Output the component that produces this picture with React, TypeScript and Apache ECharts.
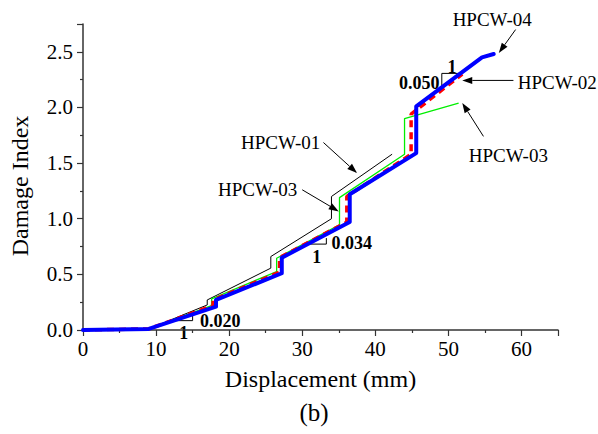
import React, { useEffect, useRef } from "react";
import * as echarts from "echarts";

// Damage index vs. displacement for the four specimens
const hpcw01: [number, number][] = [
  [0, 0], [9, 0.01], [17.0, 0.225], [17.0, 0.27], [25.7, 0.556], [25.7, 0.66],
  [34.0, 1.0], [34.0, 1.2], [42.3, 1.58],
];
const hpcw02: [number, number][] = [
  [0, 0], [9, 0.01], [17.8, 0.22], [17.8, 0.27], [26.9, 0.52], [26.9, 0.65],
  [36.1, 0.97], [36.1, 1.2], [44.9, 1.58], [44.9, 1.94], [51.9, 2.3],
];
const hpcw03: [number, number][] = [
  [0, 0], [9, 0.01], [17.6, 0.22], [17.6, 0.28], [26.5, 0.525], [26.5, 0.645],
  [35.1, 0.946], [35.1, 1.19], [44.0, 1.58], [44.0, 1.9], [51.4, 2.04],
];
const hpcw04: [number, number][] = [
  [0, 0], [9, 0.01], [18.2, 0.21], [18.2, 0.27], [27.2, 0.51], [27.2, 0.65],
  [36.5, 0.97], [36.5, 1.22], [45.6, 1.59], [45.6, 2.01], [54.6, 2.45], [56.2, 2.48],
];

const seriesNames = ["HPCW-01", "HPCW-03", "HPCW-02", "HPCW-04"];

// Callout labels: text position and arrow (from -> to), in data units
const callouts = [
  { text: "HPCW-01", at: [27.05, 1.685], from: [32.9, 1.685], to: [37.5, 1.41] },
  { text: "HPCW-03", at: [23.9, 1.26], from: [30.0, 1.26], to: [35.0, 1.066] },
  { text: "HPCW-04", at: [56.0, 2.79], from: [59.2, 2.7], to: [56.9, 2.49] },
  { text: "HPCW-02", at: [64.9, 2.225], from: [58.9, 2.243], to: [51.9, 2.243] },
  { text: "HPCW-03", at: [58.2, 1.57], from: [54.8, 1.74], to: [51.9, 2.04] },
];

// Slope markers: legs of the triangle plus the "1" run label and slope label
const slopes = [
  { value: "0.020", legs: [[12.0, 0.084], [15.0, 0.084], [15.0, 0.135]], one: [13.8, -0.027], label: [16.0, 0.08], align: "left" },
  { value: "0.034", legs: [[30.7, 0.772], [33.3, 0.772], [33.3, 0.826]], one: [32.0, 0.66], label: [34.0, 0.78], align: "left" },
  { value: "0.050", legs: [[49.1, 2.19], [49.1, 2.306], [51.6, 2.306]], one: [50.5, 2.36], label: [48.8, 2.22], align: "right" },
];

const FONT = '"Liberation Serif", "Times New Roman", serif';

export default function App() {
  const ref = useRef<HTMLDivElement>(null);

  useEffect(() => {
    if (!ref.current) return;
    const chart = echarts.init(ref.current, null, { renderer: "svg" });

    const axisCommon = {
      axisLine: { show: true, lineStyle: { color: "#333", width: 1.5 } },
      axisTick: { show: true, inside: false, length: 6, lineStyle: { color: "#333", width: 1.2 } },
      minorTick: { show: true, splitNumber: 2, length: 3, lineStyle: { color: "#333", width: 1.2 } },
      splitLine: { show: false },
      nameLocation: "middle" as const,
    };

    chart.setOption({
      animation: false,
      backgroundColor: "#fff",
      grid: { left: 82, right: 40, top: 24, bottom: 104, containLabel: false },
      xAxis: {
        type: "value",
        min: 0,
        max: 65,
        interval: 10,
        name: "Displacement (mm)",
        nameGap: 37,
        ...axisCommon,
        nameTextStyle: { fontFamily: FONT, fontSize: 24, color: "#000" },
        axisLabel: {
          fontFamily: FONT, fontSize: 21, color: "#000", margin: 8,
          formatter: (v: number) => (v % 10 === 0 ? String(v) : ""),
        },
      },
      yAxis: {
        type: "value",
        min: 0,
        max: 2.75,
        interval: 0.5,
        name: "Damage Index",
        nameGap: 51,
        ...axisCommon,
        nameTextStyle: { fontFamily: FONT, fontSize: 24, color: "#000", padding: [0, 18, 0, 0] },
        axisLabel: {
          fontFamily: FONT, fontSize: 21, color: "#000", margin: 10,
          formatter: (v: number) => (Math.abs(v * 2 - Math.round(v * 2)) < 1e-6 ? v.toFixed(1) : ""),
        },
      },
      series: [
        { name: seriesNames[0], type: "line", data: hpcw01, showSymbol: false, lineStyle: { color: "#000", width: 1 } },
        { name: seriesNames[1], type: "line", data: hpcw03, showSymbol: false, lineStyle: { color: "#00ee00", width: 1.3 } },
        { name: seriesNames[2], type: "line", data: hpcw02, showSymbol: false, lineStyle: { color: "#ff0000", width: 3.5, type: [7, 5] } },
        { name: seriesNames[3], type: "line", data: hpcw04, showSymbol: false, lineStyle: { color: "#0000ff", width: 4, join: "round", cap: "round" } },
      ],
    });

    const px = (p: number[]) => chart.convertToPixel({ gridIndex: 0 }, p) as number[];
    const elements: any[] = [];

    callouts.forEach((c) => {
      const t = px(c.at);
      elements.push({
        type: "text",
        x: t[0], y: t[1],
        style: { text: c.text, font: `19px ${FONT}`, fill: "#000", textAlign: "center", textVerticalAlign: "middle" },
      });
      const a = px(c.from);
      const b = px(c.to);
      const dx = b[0] - a[0];
      const dy = b[1] - a[1];
      const len = Math.hypot(dx, dy);
      const ux = dx / len;
      const uy = dy / len;
      const headLen = 10;
      const headW = 3.5;
      const base = [b[0] - ux * headLen, b[1] - uy * headLen];
      elements.push({
        type: "line",
        shape: { x1: a[0], y1: a[1], x2: base[0], y2: base[1] },
        style: { stroke: "#000", lineWidth: 1 },
      });
      elements.push({
        type: "polygon",
        shape: {
          points: [
            [b[0], b[1]],
            [base[0] - uy * headW, base[1] + ux * headW],
            [base[0] + uy * headW, base[1] - ux * headW],
          ],
        },
        style: { fill: "#000" },
      });
    });

    slopes.forEach((s) => {
      elements.push({
        type: "polyline",
        shape: { points: s.legs.map(px) },
        style: { stroke: "#000", lineWidth: 1, fill: null },
      });
      const o = px(s.one);
      elements.push({
        type: "text", x: o[0], y: o[1],
        style: { text: "1", font: `bold 18px ${FONT}`, fill: "#000", textAlign: "center", textVerticalAlign: "middle" },
      });
      const l = px(s.label);
      elements.push({
        type: "text", x: l[0], y: l[1],
        style: { text: s.value, font: `bold 18px ${FONT}`, fill: "#000", textAlign: s.align, textVerticalAlign: "middle" },
      });
    });

    // Sub-figure caption
    elements.push({
      type: "text", x: 314, y: 412,
      style: { text: "(b)", font: `25px ${FONT}`, fill: "#000", textAlign: "center", textVerticalAlign: "middle" },
    });

    chart.setOption({ graphic: { elements } });

    return () => chart.dispose();
  }, []);

  return (
    <div
      ref={ref}
      style={{ position: "absolute", left: 0, top: 0, width: 598, height: 434 }}
    />
  );
}
